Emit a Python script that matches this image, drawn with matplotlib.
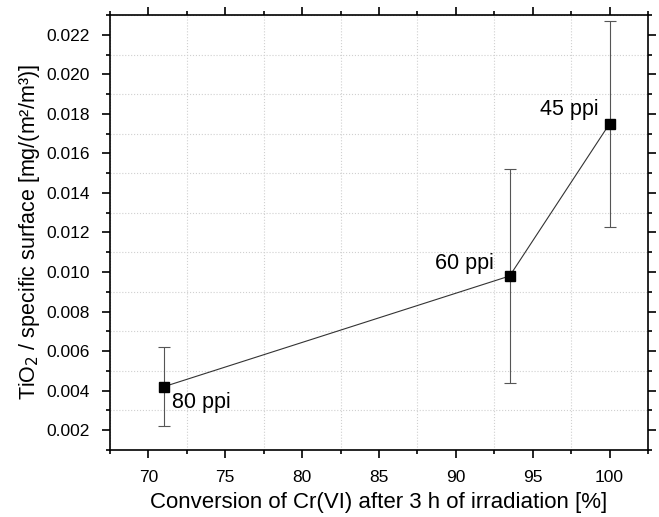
import numpy as np
import matplotlib
matplotlib.use("Agg")
import matplotlib.pyplot as plt
from matplotlib.ticker import MultipleLocator, FormatStrFormatter

plt.rcParams["font.family"] = ["Liberation Sans", "DejaVu Sans"]

# data
conversion = [71.0, 93.5, 100.0]            # %
tio2_surface = [0.0042, 0.0098, 0.0175]     # mg/(m2/m3)
tio2_err = [0.0020, 0.0054, 0.0052]
labels = ["80 ppi", "60 ppi", "45 ppi"]
# label placement (offset points, horizontal alignment)
label_offsets = [((6, -11), "left"), ((-11, 9), "right"), ((-8, 10), "right")]

fig = plt.figure(figsize=(6.59, 5.17), dpi=100)
ax = fig.add_axes([0.1669, 0.1296, 0.8164, 0.8414])

ax.errorbar(conversion, tio2_surface, yerr=tio2_err, fmt="none",
            ecolor="#555555", elinewidth=0.8, capsize=4, capthick=0.8, zorder=2)
ax.plot(conversion, tio2_surface, "-", color="#333333", lw=0.8, zorder=3)
ax.plot(conversion, tio2_surface, "s", color="black", ms=7, zorder=4)

for x, y, lab, (off, ha) in zip(conversion, tio2_surface, labels, label_offsets):
    ax.annotate(lab, (x, y), xytext=off, textcoords="offset points",
                ha=ha, va="center", fontsize=15.5)

ax.set_xlim(67.5, 102.5)
ax.set_ylim(0.001, 0.023)
ax.xaxis.set_major_locator(MultipleLocator(5))
ax.xaxis.set_minor_locator(MultipleLocator(2.5))
ax.yaxis.set_major_locator(MultipleLocator(0.002))
ax.yaxis.set_minor_locator(MultipleLocator(0.001))
ax.yaxis.set_major_formatter(FormatStrFormatter("%.3f"))

ax.grid(which="minor", color="#d0d0d0", ls=":", lw=0.8)
ax.grid(which="major", visible=False)

ax.tick_params(which="both", direction="out", top=True, right=True,
               width=1.2, labelsize=12.5)
ax.tick_params(which="major", length=5.5, pad=9)
ax.tick_params(which="minor", length=3)
for s in ax.spines.values():
    s.set_linewidth(1.2)

ax.set_xlabel("Conversion of Cr(VI) after 3 h of irradiation [%]", fontsize=16, labelpad=5)
ax.set_ylabel("TiO$_2$ / specific surface [mg/(m²/m³)]", fontsize=15.5, labelpad=3)

fig.savefig("out.png", dpi=100)
